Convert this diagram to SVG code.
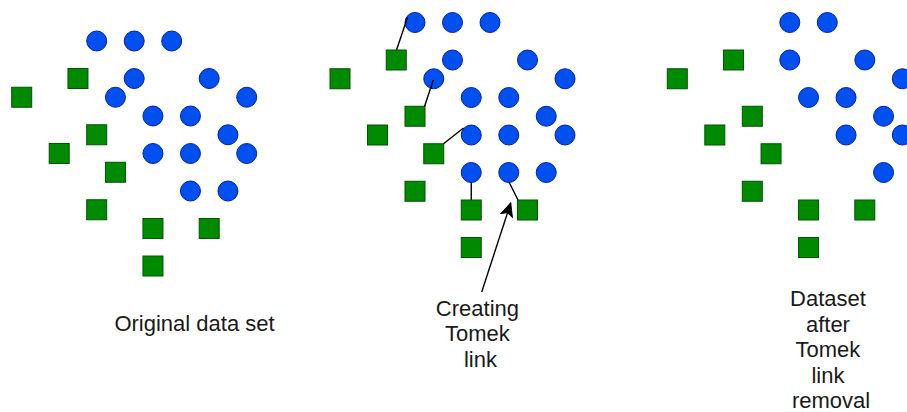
<svg xmlns="http://www.w3.org/2000/svg" width="907" height="412" viewBox="0 0 907 412">
  <style>
    .c { fill: #0050ef; stroke: #001dbc; stroke-width: 1; }
    .s { fill: #008a00; stroke: #005700; stroke-width: 1; }
    .lk { stroke: #000; stroke-width: 1.4; fill: none; }
    .t { font-family: "Liberation Sans", Arial, sans-serif; font-size: 22px; fill: #1a1a1a; text-anchor: middle; }
  </style>
  <defs>
    <marker id="ah" markerUnits="userSpaceOnUse" markerWidth="16" markerHeight="14" viewBox="-14 -7 16 14" refX="0" refY="0" orient="auto">
      <path d="M-13,-6 L0,0 L-13,6 L-10,0 Z" fill="#000" stroke="#000" stroke-width="1"/>
    </marker>
  </defs>

  <!-- Panel 1: original data set -->
  <g id="panel1">
    <g id="p1-circles">
      <circle class="c" cx="96.7" cy="41" r="10"/>
      <circle class="c" cx="134.2" cy="41" r="10"/>
      <circle class="c" cx="171.7" cy="41" r="10"/>
      <circle class="c" cx="134.2" cy="78.5" r="10"/>
      <circle class="c" cx="209.2" cy="78.5" r="10"/>
      <circle class="c" cx="115.45" cy="97.25" r="10"/>
      <circle class="c" cx="246.7" cy="97.25" r="10"/>
      <circle class="c" cx="152.95" cy="116" r="10"/>
      <circle class="c" cx="190.45" cy="116" r="10"/>
      <circle class="c" cx="227.95" cy="134.75" r="10"/>
      <circle class="c" cx="152.95" cy="153.5" r="10"/>
      <circle class="c" cx="190.45" cy="153.5" r="10"/>
      <circle class="c" cx="246.7" cy="153.5" r="10"/>
      <circle class="c" cx="190.45" cy="191" r="10"/>
      <circle class="c" cx="227.95" cy="191" r="10"/>
    </g>
    <g id="p1-squares">
      <rect class="s" x="67.95" y="68.5" width="20" height="20"/>
      <rect class="s" x="11.7" y="87.25" width="20" height="20"/>
      <rect class="s" x="86.7" y="124.75" width="20" height="20"/>
      <rect class="s" x="49.2" y="143.5" width="20" height="20"/>
      <rect class="s" x="105.45" y="162.25" width="20" height="20"/>
      <rect class="s" x="86.7" y="199.75" width="20" height="20"/>
      <rect class="s" x="142.95" y="218.5" width="20" height="20"/>
      <rect class="s" x="199.2" y="218.5" width="20" height="20"/>
      <rect class="s" x="142.95" y="256" width="20" height="20"/>
    </g>
    <text id="label1" class="t" x="194.5" y="331">Original data set</text>
  </g>

  <!-- Panel 2: creating Tomek link -->
  <g id="panel2">
    <g id="p2-circles">
      <circle class="c" cx="415" cy="22.5" r="10"/>
      <circle class="c" cx="452.5" cy="22.5" r="10"/>
      <circle class="c" cx="490" cy="22.5" r="10"/>
      <circle class="c" cx="452.5" cy="60" r="10"/>
      <circle class="c" cx="527.5" cy="60" r="10"/>
      <circle class="c" cx="433.75" cy="78.75" r="10"/>
      <circle class="c" cx="565" cy="78.75" r="10"/>
      <circle class="c" cx="471.25" cy="97.5" r="10"/>
      <circle class="c" cx="508.75" cy="97.5" r="10"/>
      <circle class="c" cx="546.25" cy="116.25" r="10"/>
      <circle class="c" cx="471.25" cy="135" r="10"/>
      <circle class="c" cx="508.75" cy="135" r="10"/>
      <circle class="c" cx="565" cy="135" r="10"/>
      <circle class="c" cx="471.25" cy="172.5" r="10"/>
      <circle class="c" cx="508.75" cy="172.5" r="10"/>
      <circle class="c" cx="546.25" cy="172.5" r="10"/>
    </g>
    <g id="p2-squares">
      <rect class="s" x="386.25" y="50" width="20" height="20"/>
      <rect class="s" x="330" y="68.75" width="20" height="20"/>
      <rect class="s" x="405" y="106.25" width="20" height="20"/>
      <rect class="s" x="367.5" y="125" width="20" height="20"/>
      <rect class="s" x="423.75" y="143.75" width="20" height="20"/>
      <rect class="s" x="405" y="181.25" width="20" height="20"/>
      <rect class="s" x="461.25" y="200" width="20" height="20"/>
      <rect class="s" x="517.5" y="200" width="20" height="20"/>
      <rect class="s" x="461.25" y="237.5" width="20" height="20"/>
    </g>
    <text id="label2" class="t" x="480.5">
      <tspan x="480.5" y="315.5">Creating</tspan>
      <tspan x="480.5" y="341">Tomek</tspan>
      <tspan x="480.5" y="366.5">link</tspan>
    </text>
  </g>

  <!-- Panel 3: dataset after removal -->
  <g id="panel3">
    <g id="p3-circles">
      <circle class="c" cx="789.8" cy="22.5" r="10"/>
      <circle class="c" cx="827.3" cy="22.5" r="10"/>
      <circle class="c" cx="789.8" cy="60" r="10"/>
      <circle class="c" cx="864.8" cy="60" r="10"/>
      <circle class="c" cx="902.3" cy="78.75" r="10"/>
      <circle class="c" cx="808.55" cy="97.5" r="10"/>
      <circle class="c" cx="846.05" cy="97.5" r="10"/>
      <circle class="c" cx="883.55" cy="116.25" r="10"/>
      <circle class="c" cx="846.05" cy="135" r="10"/>
      <circle class="c" cx="902.3" cy="135" r="10"/>
      <circle class="c" cx="883.55" cy="172.5" r="10"/>
    </g>
    <g id="p3-squares">
      <rect class="s" x="723.55" y="50" width="20" height="20"/>
      <rect class="s" x="667.3" y="68.75" width="20" height="20"/>
      <rect class="s" x="742.3" y="106.25" width="20" height="20"/>
      <rect class="s" x="704.8" y="125" width="20" height="20"/>
      <rect class="s" x="761.05" y="143.75" width="20" height="20"/>
      <rect class="s" x="742.3" y="181.25" width="20" height="20"/>
      <rect class="s" x="798.55" y="200" width="20" height="20"/>
      <rect class="s" x="854.8" y="200" width="20" height="20"/>
      <rect class="s" x="798.55" y="237.5" width="20" height="20"/>
    </g>
    <text id="label3" class="t" x="831">
      <tspan x="831" y="305.5">Dataset</tspan>
      <tspan x="831" y="331.5">after</tspan>
      <tspan x="831" y="357">Tomek</tspan>
      <tspan x="831" y="382.5">link</tspan>
      <tspan x="831" y="408">removal</tspan>
    </text>
  </g>

  <!-- Connectors: Tomek links and pointer arrow -->
  <g id="connectors">
    <line class="lk" x1="407.5" y1="17.5" x2="396.5" y2="50"/>
    <line class="lk" x1="433.3" y1="80" x2="424.5" y2="106.5"/>
    <line class="lk" x1="463.5" y1="128" x2="443.5" y2="143.8"/>
    <line class="lk" x1="471.25" y1="182.5" x2="471.25" y2="200"/>
    <line class="lk" x1="509" y1="182" x2="518" y2="200"/>
    <line class="lk" x1="481.7" y1="292" x2="510.7" y2="203" marker-end="url(#ah)"/>
  </g>
</svg>
